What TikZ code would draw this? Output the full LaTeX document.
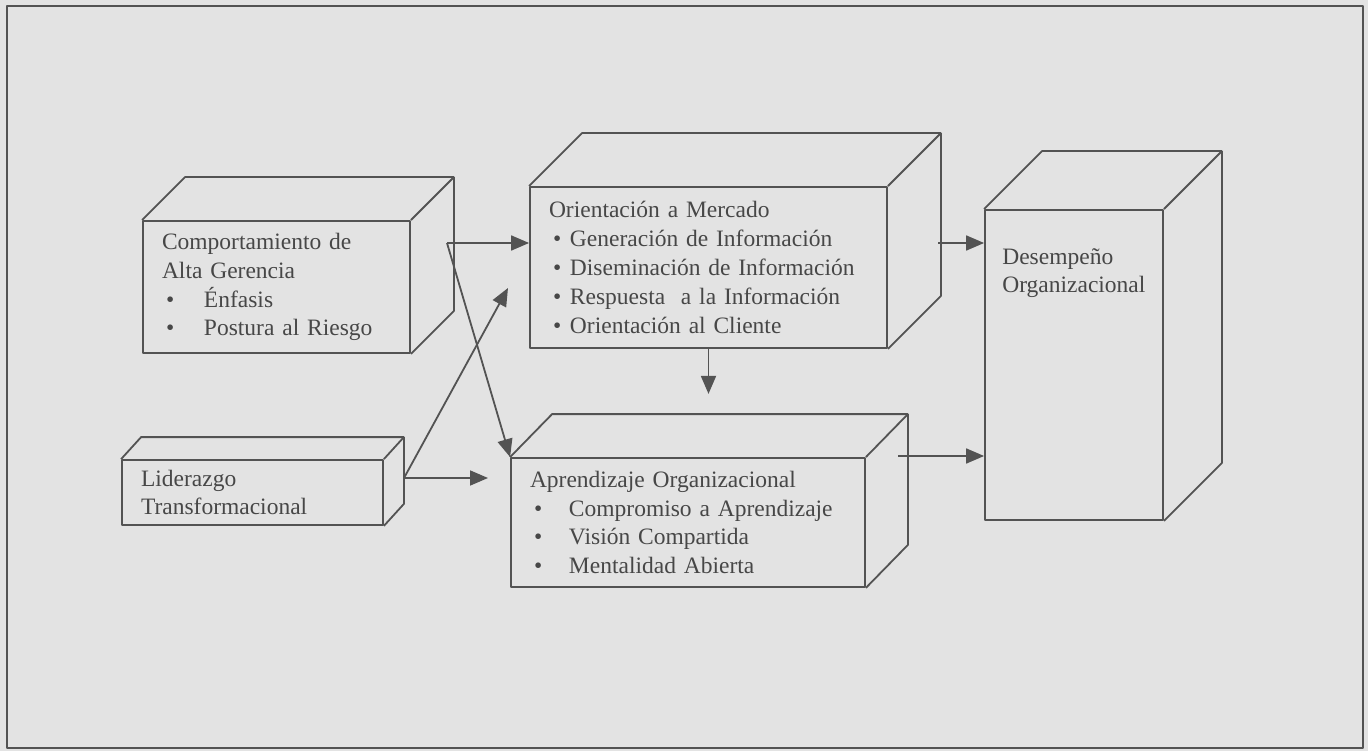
\documentclass[tikz,border=0pt]{standalone}
\usepackage{fontspec}
\setmainfont{Liberation Serif}
\usepackage{tikz}
\usetikzlibrary{arrows.meta,calc}
\definecolor{scanGray}{HTML}{E3E3E3}
\definecolor{inkGray}{HTML}{535353}
\definecolor{textGray}{HTML}{474747}
\providecommand{\itm}[2]{\hspace*{4pt}\makebox[#1][l]{\textbullet}#2}
% top and side face of a box node, #2 = depth shift
\providecommand{\solidfaces}[2]{%
  \draw[rim] (#1.north west) -- ++(#2) -- ($(#1.north east)+(#2)$)
        -- ($(#1.south east)+(#2)$) -- (#1.south east);
  \draw[rim] (#1.north east) -- ($(#1.north east)+(#2)$);}

\begin{document}
\begin{tikzpicture}[
    x=1pt,y=-1pt,
    every node/.style={font=\fontsize{23.5}{28.8}\selectfont,text=textGray},
    rim/.style={draw=inkGray,line width=1.8pt,line join=round},
    face/.style={rectangle,rim,inner xsep=19pt,inner ysep=0pt,align=left},
    arr/.style={rim,-{Triangle[length=18pt,width=15pt]}},
    lab/.style={inner sep=0pt,align=left}
  ]
  \fill[scanGray] (0,0) rectangle (1368,751);
  \draw[rim,line width=2pt] (7,6) rectangle (1363,748);

  \node[face,minimum width=267pt,minimum height=132pt,text width=229pt] (CA) at (276.5,287)
        {Comportamiento de\\Alta Gerencia\\\itm{38pt}{Énfasis}\\\itm{38pt}{Postura al Riesgo}};
  \solidfaces{CA}{43,-43}

  \node[face,minimum width=357pt,minimum height=161pt,text width=319pt] (OM) at (708.5,267.5)
        {Orientación a Mercado\\\itm{17pt}{Generación de Información}\\\itm{17pt}{Diseminación de Información}\\
         \itm{17pt}{Respuesta\ \ a la Información}\\\itm{17pt}{Orientación al Cliente}};
  \solidfaces{OM}{53,-53}

  \node[face,minimum width=178pt,minimum height=310pt] (DO) at (1074,365) {};
  \solidfaces{DO}{58,-58}
  \node[lab,anchor=north west] (DOtxt) at ($(DO.north west)+(18,39)$) {Desempeño\\Organizacional};

  \node[face,minimum width=261pt,minimum height=65pt,text width=223pt] (LT) at (252.5,492.5)
        {Liderazgo\\Transformacional};
  \solidfaces{LT}{20,-22}

  \node[face,minimum width=354pt,minimum height=129pt,text width=316pt] (AO) at (688,522.5)
        {Aprendizaje Organizacional\\\itm{35pt}{Compromiso a Aprendizaje}\\\itm{35pt}{Visión Compartida}\\
         \itm{35pt}{Mentalidad Abierta}};
  \solidfaces{AO}{42,-43}

  % connectors
  \coordinate (caOut) at (447,243);
  \coordinate (ltOut) at (404,478);
  \coordinate (omIn)  at (508,288);
  \coordinate (aoIn)  at (488,478);
  \coordinate (omOut) at (938,243);
  \coordinate (aoOut) at (898,456);
  \coordinate (omDown) at ($(OM.south)+(0,45)$);
  \draw[arr] (caOut) -- (caOut -| OM.west);
  \draw[arr] (caOut) -- (AO.north west);
  \draw[arr] (ltOut) -- (omIn);
  \draw[arr] (ltOut) -- (aoIn);
  \draw[arr] (OM.south) -- (omDown);
  \draw[arr] (omOut) -- (omOut -| DO.west);
  \draw[arr] (aoOut) -- (aoOut -| DO.west);
\end{tikzpicture}
\end{document}
